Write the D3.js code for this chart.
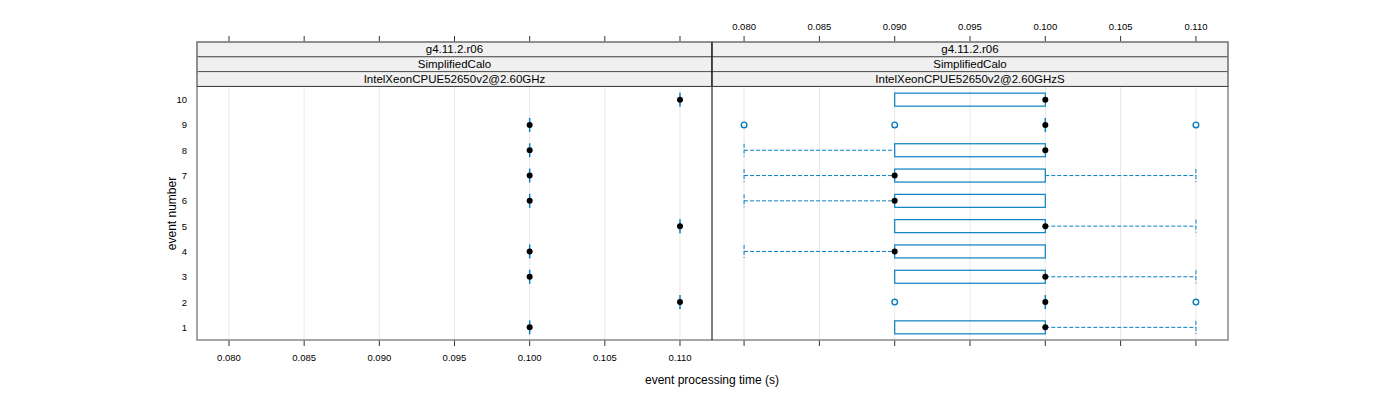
<!DOCTYPE html>
<html>
<head>
<meta charset="utf-8">
<script src="https://cdn.jsdelivr.net/npm/d3@7"></script>
<style>
  body { margin: 0; background: #fff; }
  text { font-family: "Liberation Sans", Arial, sans-serif; fill: #000; }
</style>
</head>
<body>
<svg id="chart" width="1400" height="400"></svg>
<script>
// panel conditioning (strip labels)
var versions = ["g4.11.2.r06", "g4.11.2.r06"];
var apps = ["SimplifiedCalo", "SimplifiedCalo"];
var machines = ["IntelXeonCPUE52650v2@2.60GHz", "IntelXeonCPUE52650v2@2.60GHzS"];

var events = [1, 2, 3, 4, 5, 6, 7, 8, 9, 10];
var xTicks = [0.080, 0.085, 0.090, 0.095, 0.100, 0.105, 0.110];

// left panel: single value per event
var leftValues = [0.100, 0.110, 0.100, 0.100, 0.110, 0.100, 0.100, 0.100, 0.100, 0.110];

// right panel box stats per event: [lowWhisker, q1, median, q3, highWhisker]
var rightLow    = [0.090, 0.100, 0.090, 0.080, 0.090, 0.080, 0.080, 0.080, 0.100, 0.090];
var rightQ1     = [0.090, 0.100, 0.090, 0.090, 0.090, 0.090, 0.090, 0.090, 0.100, 0.090];
var rightMedian = [0.100, 0.100, 0.100, 0.090, 0.100, 0.090, 0.090, 0.100, 0.100, 0.100];
var rightQ3     = [0.100, 0.100, 0.100, 0.100, 0.100, 0.100, 0.100, 0.100, 0.100, 0.100];
var rightHigh   = [0.110, 0.100, 0.110, 0.100, 0.110, 0.100, 0.110, 0.100, 0.100, 0.100];
var rightOutliers = [[], [0.090, 0.110], [], [], [], [], [], [], [0.080, 0.090, 0.110], []];

var svg = d3.select("#chart");
var blue = "#0a7fc0";

var panelTop = 87, panelBottom = 340;
var stripH = 14.8, stripTop = 42;
var panels = [{ x0: 197, x1: 712 }, { x0: 712, x1: 1228 }];

var y = d3.scaleLinear().domain([0.5, 10.5]).range([panelBottom, panelTop]);

panels.forEach(function (p, i) {
    p.x = d3.scaleLinear().domain([0.077871, 0.112129]).range([p.x0, p.x1]);
    var g = svg.append("g");

    // grid
    g.selectAll(".grid").data(xTicks).enter().append("line")
        .attr("x1", d => p.x(d)).attr("x2", d => p.x(d))
        .attr("y1", panelTop).attr("y2", panelBottom)
        .attr("stroke", "#e8e8e8").attr("stroke-width", 1);

    // strips
    [versions[i], apps[i], machines[i]].forEach(function (lab, k) {
        var sy = stripTop + k * stripH;
        g.append("rect").attr("x", p.x0).attr("y", sy)
            .attr("width", p.x1 - p.x0).attr("height", stripH)
            .attr("fill", "#f0f0f0").attr("stroke", "#555").attr("stroke-width", 1);
        g.append("text").attr("x", (p.x0 + p.x1) / 2).attr("y", sy + stripH / 2 + 4)
            .attr("text-anchor", "middle").attr("font-size", 11.5).text(lab);
    });

    // top ticks
    g.selectAll(".tt").data(xTicks).enter().append("line")
        .attr("x1", d => p.x(d)).attr("x2", d => p.x(d))
        .attr("y1", stripTop - 6).attr("y2", stripTop)
        .attr("stroke", "#333");
    // bottom ticks
    g.selectAll(".bt").data(xTicks).enter().append("line")
        .attr("x1", d => p.x(d)).attr("x2", d => p.x(d))
        .attr("y1", panelBottom).attr("y2", panelBottom + 6)
        .attr("stroke", "#333");

    var fmt = d3.format(".3f");
    if (i === 0) {
        g.selectAll(".bl").data(xTicks).enter().append("text")
            .attr("x", d => p.x(d)).attr("y", panelBottom + 21)
            .attr("text-anchor", "middle").attr("font-size", 9.5).text(fmt);
    } else {
        g.selectAll(".tl").data(xTicks).enter().append("text")
            .attr("x", d => p.x(d)).attr("y", stripTop - 12)
            .attr("text-anchor", "middle").attr("font-size", 9.5).text(fmt);
    }
    p.g = g;
});

// y axis
var yAxisG = svg.append("g");
yAxisG.selectAll("text").data(events).enter().append("text")
    .attr("x", 187).attr("y", d => y(d) + 3.5)
    .attr("text-anchor", "end").attr("font-size", 9.5).text(d => d);

// left panel marks
var L = panels[0];
L.g.selectAll(".whisk").data(leftValues).enter().append("line")
    .attr("x1", d => L.x(d)).attr("x2", d => L.x(d))
    .attr("y1", (d, i) => y(events[i]) - 7).attr("y2", (d, i) => y(events[i]) + 7)
    .attr("stroke", blue).attr("stroke-width", 1.5);
L.g.selectAll(".dot").data(leftValues).enter().append("circle")
    .attr("cx", d => L.x(d)).attr("cy", (d, i) => y(events[i]))
    .attr("r", 3).attr("fill", "#000");

// right panel marks
var R = panels[1];
var bh = 6.5;
events.forEach(function (ev, i) {
    var cy = y(ev), g = R.g;
    if (rightQ3[i] > rightQ1[i]) {
        g.append("rect").attr("x", R.x(rightQ1[i])).attr("y", cy - bh)
            .attr("width", R.x(rightQ3[i]) - R.x(rightQ1[i])).attr("height", 2 * bh)
            .attr("fill", "none").attr("stroke", blue).attr("stroke-width", 1.2);
    } else {
        g.append("line").attr("x1", R.x(rightQ1[i])).attr("x2", R.x(rightQ1[i]))
            .attr("y1", cy - 7).attr("y2", cy + 7)
            .attr("stroke", blue).attr("stroke-width", 1.5);
    }
    if (rightLow[i] < rightQ1[i]) {
        g.append("line").attr("x1", R.x(rightLow[i])).attr("x2", R.x(rightQ1[i]))
            .attr("y1", cy).attr("y2", cy)
            .attr("stroke", blue).attr("stroke-dasharray", "4,2");
        g.append("line").attr("x1", R.x(rightLow[i])).attr("x2", R.x(rightLow[i]))
            .attr("y1", cy - bh).attr("y2", cy + bh)
            .attr("stroke", blue).attr("stroke-dasharray", "4,2");
    }
    if (rightHigh[i] > rightQ3[i]) {
        g.append("line").attr("x1", R.x(rightQ3[i])).attr("x2", R.x(rightHigh[i]))
            .attr("y1", cy).attr("y2", cy)
            .attr("stroke", blue).attr("stroke-dasharray", "4,2");
        g.append("line").attr("x1", R.x(rightHigh[i])).attr("x2", R.x(rightHigh[i]))
            .attr("y1", cy - bh).attr("y2", cy + bh)
            .attr("stroke", blue).attr("stroke-dasharray", "4,2");
    }
    rightOutliers[i].forEach(function (o) {
        g.append("circle").attr("cx", R.x(o)).attr("cy", cy).attr("r", 2.8)
            .attr("fill", "none").attr("stroke", blue).attr("stroke-width", 1.4);
    });
    g.append("circle").attr("cx", R.x(rightMedian[i])).attr("cy", cy)
        .attr("r", 3).attr("fill", "#000");
});

// panel frames
svg.append("rect").attr("x", 197).attr("y", stripTop)
    .attr("width", 1228 - 197).attr("height", panelBottom - stripTop)
    .attr("fill", "none").attr("stroke", "#888").attr("stroke-width", 1.5);
svg.append("line").attr("x1", 712).attr("x2", 712)
    .attr("y1", stripTop).attr("y2", panelBottom)
    .attr("stroke", "#000").attr("stroke-width", 1);
svg.append("line").attr("x1", 197).attr("x2", 1228)
    .attr("y1", panelTop - 0.5).attr("y2", panelTop - 0.5)
    .attr("stroke", "#444").attr("stroke-width", 1);

// axis titles
svg.append("text").attr("x", 712).attr("y", 384)
    .attr("text-anchor", "middle").attr("font-size", 12).text("event processing time (s)");
svg.append("text").attr("transform", "translate(176," + ((panelTop + panelBottom) / 2) + ") rotate(-90)")
    .attr("text-anchor", "middle").attr("font-size", 12).text("event number");
</script>
</body>
</html>
